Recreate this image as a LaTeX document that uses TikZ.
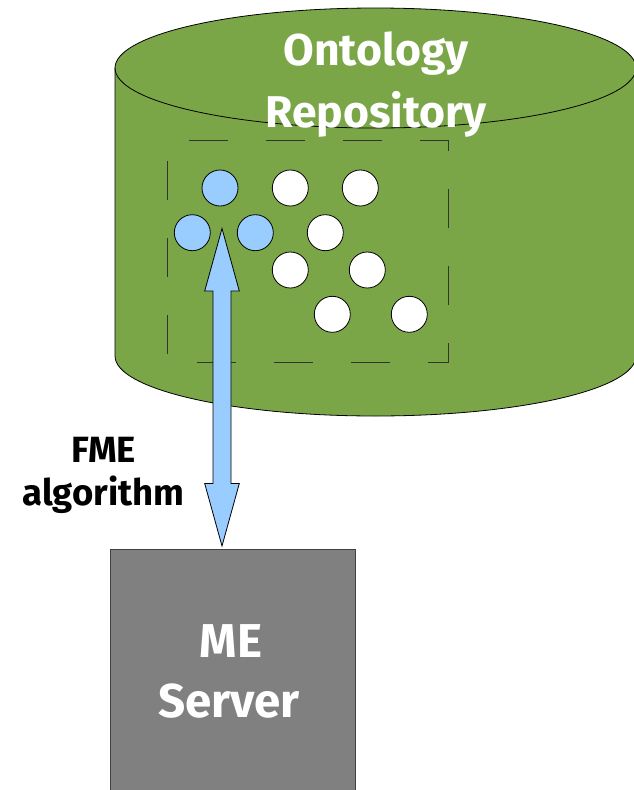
\documentclass[tikz,border=0pt]{standalone}
\usepackage{fontspec}
\setmainfont{Fira Sans}
\begin{document}
\begin{tikzpicture}[x=1pt,y=1pt,
  outline/.style={draw=black,line width=0.8pt},
  concept/.style={circle,outline,minimum size=36pt,inner sep=0pt},
  hit/.style={concept,fill=skyblue},
  miss/.style={concept,fill=white},
  whitelabel/.style={text=white,font=\bfseries\fontsize{44.5}{50}\selectfont,inner sep=0pt,anchor=base},
  blacklabel/.style={text=black,font=\bfseries\fontsize{36.5}{40}\selectfont,inner sep=0pt,anchor=base}]
\definecolor{repogreen}{HTML}{7BA647}
\definecolor{skyblue}{HTML}{99CCFF}
\definecolor{servergray}{HTML}{808080}
\useasboundingbox (0,0) rectangle (634,-790);
\begin{scope}
\clip (0,0) rectangle (634,-790);
% repository cylinder: body, then the full top ellipse
\fill[repogreen] (115,-68) -- (115,-356)
  arc[start angle=180,end angle=360,x radius=260.5pt,y radius=60pt]
  -- (636,-68)
  arc[start angle=0,end angle=180,x radius=260.5pt,y radius=60pt] -- cycle;
\draw[outline] (115,-68) -- (115,-356)
  arc[start angle=180,end angle=360,x radius=260.5pt,y radius=60pt]
  -- (636,-68);
\draw[outline] (375.5,-68) ellipse[x radius=260.5pt,y radius=60pt];
\node[whitelabel] (onto) at (376,-65) {Ontology};
\node[whitelabel] (repo) at (376,-127) {Repository};
% dashed frame around the concept graph
\draw[black!80,line width=0.9pt,dash pattern=on 39pt off 38pt,dash phase=-21pt]
  (167,-140) rectangle (448,-362);
% concepts
\node[hit] (c1) at (220,-188) {};
\node[hit] (c2) at (192.3,-232.7) {};
\node[hit] (c3) at (255.3,-232.7) {};
\node[miss] (c4) at (290.3,-188) {};
\node[miss] (c5) at (360.3,-188) {};
\node[miss] (c6) at (325.3,-232.7) {};
\node[miss] (c7) at (290.3,-270) {};
\node[miss] (c8) at (367.3,-270) {};
\node[miss] (c9) at (332.3,-314.3) {};
\node[miss] (c10) at (409.3,-314.3) {};
% matching engine server
\node[draw=black!75,fill=servergray,line width=0.8pt,anchor=north west,
  minimum width=245pt,minimum height=260pt,inner sep=0pt] (server) at (110,-548.5) {};
\node[whitelabel,font=\bfseries\fontsize{47.5}{50}\selectfont] (me) at (231,-657) {ME};
\node[whitelabel,font=\bfseries\fontsize{47.5}{50}\selectfont] (srv) at (229,-717) {Server};
% two-headed arrow between the graph and the server
\coordinate (tipA) at (222,-228.5);
\coordinate (tipB) at (222,-546);
\draw[outline,fill=skyblue,line join=miter]
  (tipA) -- ([xshift=17.3pt,yshift=-62.5pt]tipA) -- ([xshift=9pt,yshift=-62.5pt]tipA)
  -- ([xshift=9pt,yshift=62.5pt]tipB) -- ([xshift=17.3pt,yshift=62.5pt]tipB)
  -- (tipB) -- ([xshift=-17.3pt,yshift=62.5pt]tipB) -- ([xshift=-9pt,yshift=62.5pt]tipB)
  -- ([xshift=-9pt,yshift=-62.5pt]tipA) -- ([xshift=-17.3pt,yshift=-62.5pt]tipA) -- cycle;
\node[blacklabel] (fme) at (103.5,-462) {FME};
\node[blacklabel] (algo) at (103.5,-505) {algorithm};
\end{scope}
\end{tikzpicture}
\end{document}
